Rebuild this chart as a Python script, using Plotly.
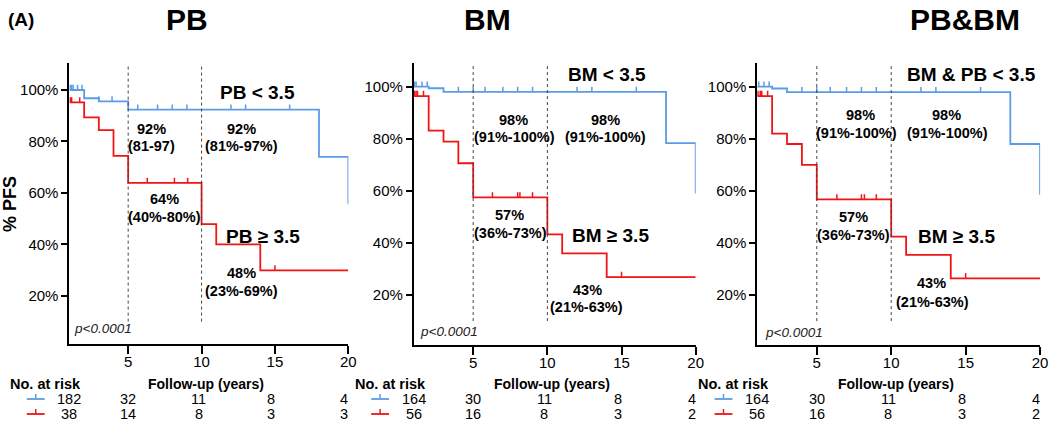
import plotly.graph_objects as go

W, H = 1059, 435
BLUE = "#5b9be8"
RED = "#f01414"
FONT = "Liberation Sans, Arial, sans-serif"

panel_titles = ["PB", "BM", "PB&BM"]

# Kaplan-Meier step data (years, % PFS)
pb_low_t = [1, 2, 3, 5, 18, 20]
pb_low_s = [100, 96.8, 95.6, 92.4, 74, 55.6]
pb_low_cens = [1.05, 1.15, 1.25, 1.55, 1.85, 3.0, 3.9, 5.65, 7.0, 8.0, 9.0, 12.0, 13.0, 16.0]
pb_high_t = [1, 2, 3, 4, 5, 10, 11, 14, 20]
pb_high_s = [95.2, 89.4, 84.4, 74.4, 63.9, 47.9, 40, 29.9, 29.9]
pb_high_cens = [1.05, 1.15, 1.7, 6.3, 8.15, 9.05, 15.0]

bm_low_t = [1, 2, 3, 18, 20]
bm_low_s = [100, 99.4, 98, 78.3, 59]
bm_low_cens = [1.05, 1.15, 1.55, 1.9, 4.0, 5.0, 5.8, 7.0, 8.0, 9.0, 12.0, 13.0, 16.0]
bm_high_t = [1, 2, 3, 4, 5, 10, 11, 14, 20]
bm_high_s = [96.4, 83.1, 78.9, 70.6, 57.5, 43.3, 36, 26.9, 26.9]
bm_high_cens = [1.05, 1.15, 1.25, 1.65, 6.3, 8.0, 8.15, 9.0, 15.0]

both_low_t = [1, 2, 3, 18, 20]
both_low_s = [100, 99.3, 97.9, 78, 58.5]
both_low_cens = [1.1, 1.45, 1.8, 4.0, 5.0, 5.9, 7.0, 8.0, 9.0, 12.0, 13.0, 16.0]
both_high_t = [1, 2, 3, 4, 5, 10, 11, 14, 20]
both_high_s = [96.4, 82, 78, 70, 56.7, 42.4, 35.4, 26.4, 26.4]
both_high_cens = [1.05, 1.2, 1.3, 1.7, 6.35, 8.0, 8.2, 9.0, 15.0]

# numbers at risk
risk_times = [1, 5, 10, 15, 20]
pb_risk_low = [182, 32, 11, 8, 4]
pb_risk_high = [38, 14, 8, 3, 3]
bm_risk_low = [164, 30, 11, 8, 4]
bm_risk_high = [56, 16, 8, 3, 2]
both_risk_low = [164, 30, 11, 8, 4]
both_risk_high = [56, 16, 8, 3, 2]

# annotations: (text, x, y, size)
pb_labels = [("<b>PB < 3.5</b>", 13.8, 99.2, 19), ("<b>92%</b>", 6.6, 84.7, 14.5),
             ("<b>(81-97)</b>", 6.6, 78.2, 14.5), ("<b>92%</b>", 12.75, 84.7, 14.5),
             ("<b>(81%-97%)</b>", 12.7, 78.2, 14.5), ("<b>64%</b>", 7.45, 57.5, 14.5),
             ("<b>(40%-80%)</b>", 7.47, 50.7, 14.5), ("<b>PB ≥ 3.5</b>", 14.2, 43.2, 19),
             ("<b>48%</b>", 12.73, 28.7, 14.5), ("<b>(23%-69%)</b>", 12.7, 22.0, 14.5)]
bm_labels = [("<b>BM < 3.5</b>", 14.0, 104.5, 19), ("<b>98%</b>", 7.72, 87.2, 14.5),
             ("<b>(91%-100%)</b>", 7.77, 80.6, 14.5), ("<b>98%</b>", 13.94, 87.2, 14.5),
             ("<b>(91%-100%)</b>", 13.95, 80.6, 14.5), ("<b>57%</b>", 7.44, 50.7, 14.5),
             ("<b>(36%-73%)</b>", 7.49, 44.0, 14.5), ("<b>BM ≥ 3.5</b>", 14.27, 43.0, 19),
             ("<b>43%</b>", 12.7, 21.9, 14.5), ("<b>(21%-63%)</b>", 12.67, 15.3, 14.5)]
both_labels = [("<b>BM & PB < 3.5</b>", 15.4, 104.5, 19), ("<b>98%</b>", 7.97, 89.1, 14.5),
               ("<b>(91%-100%)</b>", 7.69, 82.1, 14.5), ("<b>98%</b>", 13.73, 89.1, 14.5),
               ("<b>(91%-100%)</b>", 13.78, 82.1, 14.5), ("<b>57%</b>", 7.47, 50.1, 14.5),
               ("<b>(36%-73%)</b>", 7.5, 43.0, 14.5), ("<b>BM ≥ 3.5</b>", 14.37, 42.4, 19),
               ("<b>43%</b>", 12.72, 24.7, 14.5), ("<b>(21%-63%)</b>", 12.76, 17.4, 14.5)]

panels = [
    dict(low=(pb_low_t, pb_low_s, pb_low_cens), high=(pb_high_t, pb_high_s, pb_high_cens),
         risk=(pb_risk_low, pb_risk_high), labels=pb_labels, px=(70, 351), py=(63, 344),
         yr=[1.3, 110.5], title_px=188, p=(1.18, 7.5)),
    dict(low=(bm_low_t, bm_low_s, bm_low_cens), high=(bm_high_t, bm_high_s, bm_high_cens),
         risk=(bm_risk_low, bm_risk_high), labels=bm_labels, px=(417, 701), py=(63, 345),
         yr=[0.8, 109.1], title_px=491, p=(1.27, 5.9)),
    dict(low=(both_low_t, both_low_s, both_low_cens), high=(both_high_t, both_high_s, both_high_cens),
         risk=(both_risk_low, both_risk_high), labels=both_labels, px=(763, 1048), py=(63, 345),
         yr=[0.8, 109.1], title_px=972, p=(1.36, 5.5)),
]


def step_value(ts, ss, t):
    v = ss[0]
    for ti, si in zip(ts, ss):
        if ti <= t:
            v = si
    return v


def ann(**kw):
    d = dict(showarrow=False, xanchor="center", yanchor="middle")
    d.update(kw)
    return d


fig = go.Figure()
annotations = []
shapes = []

for i, pn in enumerate(panels):
    k = "" if i == 0 else str(i + 1)
    xa, ya = "x" + k, "y" + k
    for (ts, ss, cens), col in [(pn["low"], BLUE), (pn["high"], RED)]:
        fig.add_trace(go.Scatter(x=ts, y=ss, mode="lines", line=dict(color=col, width=1.8, shape="hv"),
                                 xaxis=xa, yaxis=ya, showlegend=False, hoverinfo="skip"))
        cx, cy = [], []
        for t in cens:
            s = step_value(ts, ss, t)
            cx += [t, t, None]
            cy += [s, s + 2.0, None]
        fig.add_trace(go.Scatter(x=cx, y=cy, mode="lines", line=dict(color=col, width=1.5),
                                 xaxis=xa, yaxis=ya, showlegend=False, hoverinfo="skip"))
    # dotted reference lines at 5 and 10 years
    for xv in [5, 10]:
        fig.add_trace(go.Scatter(x=[xv, xv], y=[10, 110], mode="lines",
                                 line=dict(color="#444", width=1, dash="dot"),
                                 xaxis=xa, yaxis=ya, showlegend=False, hoverinfo="skip"))
    x0, x1 = pn["px"][0] / W, pn["px"][1] / W
    y0, y1 = 1 - pn["py"][1] / H, 1 - pn["py"][0] / H
    axx = dict(domain=[x0, x1], range=[1, 20], showline=True, linewidth=2, linecolor="black",
               ticks="outside", ticklen=8, tickwidth=2, tickcolor="black", tickvals=[5, 10, 15, 20],
               tickfont=dict(size=15, color="black", family=FONT), showgrid=False, zeroline=False,
               anchor=ya, fixedrange=True, ticklabelstandoff=-5)
    axy = dict(domain=[y0, y1], range=pn["yr"], showline=True, linewidth=2, linecolor="black",
               ticks="outside", ticklen=6, tickwidth=2, tickcolor="black",
               tickvals=[20, 40, 60, 80, 100], ticktext=["20%", "40%", "60%", "80%", "100%"],
               tickfont=dict(size=15, color="black", family=FONT), showgrid=False, zeroline=False,
               anchor=xa, fixedrange=True)
    fig.update_layout(**{"xaxis" + k: axx, "yaxis" + k: axy})

    # labels
    for txt, lx, ly, sz in pn["labels"]:
        annotations.append(ann(text=txt, x=lx, y=ly, xref=xa, yref=ya,
                               font=dict(size=sz, color="black", family=FONT)))
    annotations.append(ann(text="<i>p<0.0001</i>", x=pn["p"][0], y=pn["p"][1], xref=xa, yref=ya,
                           xanchor="left", font=dict(size=13.5, color="#222", family=FONT)))
    # title
    annotations.append(ann(text="<b>%s</b>" % panel_titles[i], x=pn["title_px"] / W, y=1 - 20 / H,
                           xref="paper", yref="paper", font=dict(size=30, color="black", family=FONT)))
    # risk table
    annotations.append(ann(text="<b>No. at risk</b>", x=(pn["px"][0] - 24) / W, y=1 - 384 / H,
                           xref="paper", yref="paper", font=dict(size=14.5, color="black", family=FONT)))
    annotations.append(ann(text="<b>Follow-up (years)</b>", x=10.3, y=1 - 384 / H, xref=xa, yref="paper",
                           font=dict(size=14, color="black", family=FONT)))
    shifts = [0, 0, -3, -4, -4]
    for row, (vals, col, ry) in enumerate([(pn["risk"][0], BLUE, 399), (pn["risk"][1], RED, 414)]):
        for t, v, sh in zip(risk_times, vals, shifts):
            annotations.append(ann(text=str(v), x=t, y=1 - ry / H, xref=xa, yref="paper", xshift=sh,
                                   font=dict(size=14.5, color="black", family=FONT)))
        gx0 = (pn["px"][0] - 43) / W
        gx1 = (pn["px"][0] - 25) / W
        gm = (pn["px"][0] - 34) / W
        shapes.append(dict(type="line", xref="paper", yref="paper", x0=gx0, x1=gx1,
                           y0=1 - ry / H, y1=1 - ry / H, line=dict(color=col, width=1.8)))
        shapes.append(dict(type="line", xref="paper", yref="paper", x0=gm, x1=gm,
                           y0=1 - ry / H, y1=1 - (ry - 5) / H, line=dict(color=col, width=1.5)))

annotations.append(ann(text="<b>(A)</b>", x=21 / W, y=1 - 20 / H, xref="paper", yref="paper",
                       font=dict(size=19, color="black", family=FONT)))
annotations.append(ann(text="<b>% PFS</b>", x=10 / W, y=1 - 204 / H, xref="paper", yref="paper",
                       textangle=-90, font=dict(size=18, color="black", family=FONT)))

fig.update_layout(width=W, height=H, margin=dict(l=0, r=0, t=0, b=0), paper_bgcolor="white",
                  plot_bgcolor="white", annotations=annotations, shapes=shapes,
                  font=dict(family=FONT, color="black"))
fig.write_html("out.html", config={"displayModeBar": False},
               post_script="document.body.style.margin='0';document.body.style.overflow='hidden';")
